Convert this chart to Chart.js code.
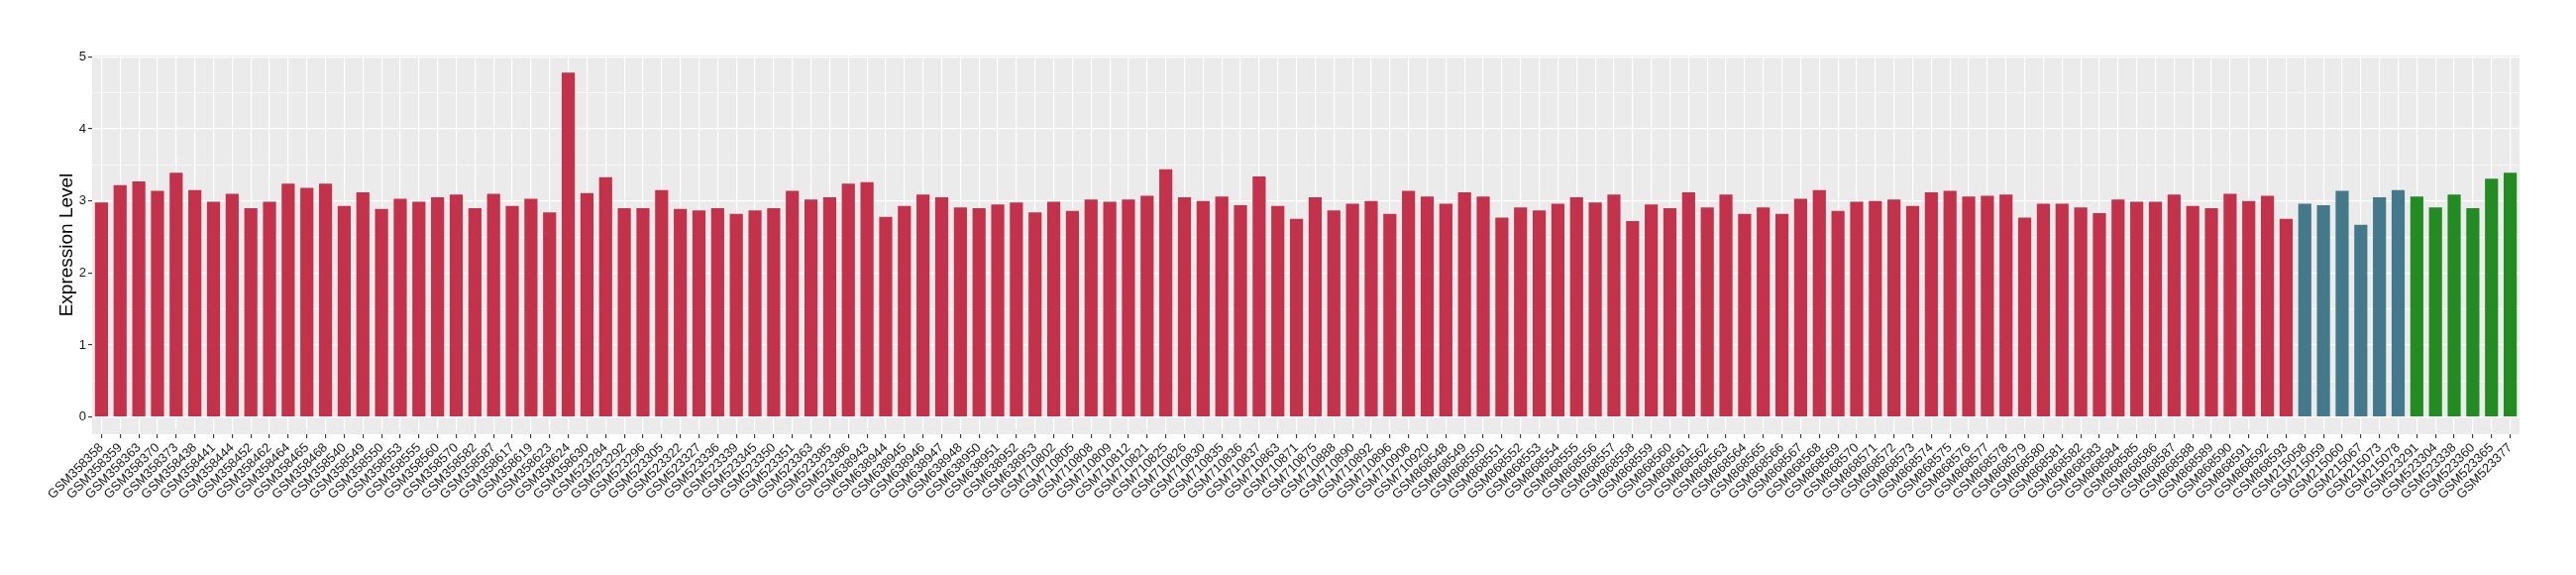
<!DOCTYPE html>
<html>
<head>
<meta charset="utf-8">
<script src="https://cdn.jsdelivr.net/npm/chart.js@4/dist/chart.umd.min.js"></script>
<style>
    body { margin: 0; background: #ffffff; }
    #wrap { width: 2600px; height: 580px; }
</style>
</head>
<body>
<div id="wrap"><canvas id="myChart" width="2600" height="580"></canvas></div>
<script>
// Samples and expression levels, one pair of arrays per group
const redSamples = [
    'GSM358358', 'GSM358359', 'GSM358363', 'GSM358370', 'GSM358373', 'GSM358438', 'GSM358441', 'GSM358444',
    'GSM358452', 'GSM358462', 'GSM358464', 'GSM358465', 'GSM358468', 'GSM358540', 'GSM358549', 'GSM358550',
    'GSM358553', 'GSM358555', 'GSM358560', 'GSM358570', 'GSM358582', 'GSM358587', 'GSM358617', 'GSM358619',
    'GSM358623', 'GSM358624', 'GSM358630', 'GSM523284', 'GSM523292', 'GSM523296', 'GSM523305', 'GSM523322',
    'GSM523327', 'GSM523336', 'GSM523339', 'GSM523345', 'GSM523350', 'GSM523351', 'GSM523363', 'GSM523385',
    'GSM523386', 'GSM638943', 'GSM638944', 'GSM638945', 'GSM638946', 'GSM638947', 'GSM638948', 'GSM638950',
    'GSM638951', 'GSM638952', 'GSM638953', 'GSM710802', 'GSM710805', 'GSM710808', 'GSM710809', 'GSM710812',
    'GSM710821', 'GSM710825', 'GSM710826', 'GSM710830', 'GSM710835', 'GSM710836', 'GSM710837', 'GSM710863',
    'GSM710871', 'GSM710875', 'GSM710888', 'GSM710890', 'GSM710892', 'GSM710896', 'GSM710908', 'GSM710920',
    'GSM868548', 'GSM868549', 'GSM868550', 'GSM868551', 'GSM868552', 'GSM868553', 'GSM868554', 'GSM868555',
    'GSM868556', 'GSM868557', 'GSM868558', 'GSM868559', 'GSM868560', 'GSM868561', 'GSM868562', 'GSM868563',
    'GSM868564', 'GSM868565', 'GSM868566', 'GSM868567', 'GSM868568', 'GSM868569', 'GSM868570', 'GSM868571',
    'GSM868572', 'GSM868573', 'GSM868574', 'GSM868575', 'GSM868576', 'GSM868577', 'GSM868578', 'GSM868579',
    'GSM868580', 'GSM868581', 'GSM868582', 'GSM868583', 'GSM868584', 'GSM868585', 'GSM868586', 'GSM868587',
    'GSM868588', 'GSM868589', 'GSM868590', 'GSM868591', 'GSM868592', 'GSM868593'
];
const redValues = [
    2.98, 3.22, 3.27, 3.14, 3.39, 3.15, 2.99, 3.10,
    2.90, 2.99, 3.24, 3.18, 3.24, 2.93, 3.12, 2.89,
    3.03, 2.99, 3.05, 3.09, 2.90, 3.10, 2.93, 3.03,
    2.84, 4.78, 3.11, 3.33, 2.90, 2.90, 3.15, 2.89,
    2.87, 2.90, 2.82, 2.87, 2.90, 3.14, 3.02, 3.05,
    3.24, 3.26, 2.78, 2.93, 3.09, 3.05, 2.91, 2.90,
    2.95, 2.98, 2.84, 2.99, 2.86, 3.02, 2.99, 3.02,
    3.07, 3.44, 3.05, 3.00, 3.06, 2.94, 3.34, 2.93,
    2.75, 3.05, 2.87, 2.96, 3.00, 2.82, 3.14, 3.06,
    2.96, 3.12, 3.06, 2.77, 2.91, 2.87, 2.96, 3.05,
    2.98, 3.09, 2.72, 2.95, 2.90, 3.12, 2.91, 3.09,
    2.82, 2.91, 2.82, 3.03, 3.15, 2.86, 2.99, 3.00,
    3.02, 2.93, 3.12, 3.14, 3.06, 3.07, 3.09, 2.77,
    2.96, 2.96, 2.91, 2.83, 3.02, 2.99, 2.99, 3.09,
    2.93, 2.90, 3.10, 3.00, 3.07, 2.75
];
const blueSamples = ['GSM215058', 'GSM215059', 'GSM215060', 'GSM215067', 'GSM215073', 'GSM215078'];
const blueValues = [2.96, 2.94, 3.14, 2.67, 3.05, 3.15];
const greenSamples = ['GSM523291', 'GSM523304', 'GSM523338', 'GSM523360', 'GSM523365', 'GSM523377'];
const greenValues = [3.06, 2.91, 3.09, 2.90, 3.31, 3.39];

const yTicks = [0, 1, 2, 3, 4, 5];

const labels = redSamples.concat(blueSamples, greenSamples);
const values = redValues.concat(blueValues, greenValues);
const colors = redSamples.map(() => '#C3314A')
    .concat(blueSamples.map(() => '#44798B'), greenSamples.map(() => '#228B22'));

// grey panel behind the bars (ggplot look)
const panelBackground = {
    id: 'panelBackground',
    beforeDraw(chart) {
        const { ctx, chartArea } = chart;
        ctx.save();
        ctx.fillStyle = '#EBEBEB';
        ctx.fillRect(chartArea.left, chartArea.top, chartArea.right - chartArea.left, chartArea.bottom - chartArea.top);
        ctx.restore();
    }
};

Chart.defaults.font.family = '"Liberation Sans", Arial, sans-serif';

const ctx = document.getElementById('myChart').getContext('2d');
new Chart(ctx, {
    type: 'bar',
    data: {
        labels: labels,
        datasets: [{
            label: 'Expression Level',
            data: values,
            backgroundColor: colors,
            borderWidth: 0,
            barPercentage: 0.7,
            categoryPercentage: 1.0
        }]
    },
    options: {
        responsive: false,
        animation: false,
        layout: {
            padding: { left: 52, right: 57, top: 56, bottom: 0 }
        },
        plugins: {
            legend: { display: false },
            tooltip: { enabled: false }
        },
        scales: {
            x: {
                offset: true,
                border: { display: false },
                grid: {
                    offset: false,
                    color: '#FFFFFF',
                    lineWidth: 1.2,
                    tickColor: '#333333',
                    tickLength: 4,
                    tickWidth: 1.1
                },
                ticks: {
                    autoSkip: false,
                    minRotation: 45,
                    maxRotation: 45,
                    padding: 2,
                    color: '#1A1A1A',
                    font: { size: 13 }
                },
                afterFit: function (scale) {
                    scale.height = 142;
                }
            },
            y: {
                min: -0.239,
                max: 5.019,
                border: { display: false },
                grid: {
                    color: '#FFFFFF',
                    lineWidth: c => Number.isInteger(c.tick.value) ? 1.2 : 0.6,
                    tickColor: c => Number.isInteger(c.tick.value) ? '#333333' : 'rgba(0,0,0,0)',
                    tickLength: 4,
                    tickWidth: 1.1
                },
                ticks: {
                    stepSize: 0.5,
                    includeBounds: false,
                    padding: 2,
                    color: '#1A1A1A',
                    font: { size: 13 },
                    callback: v => yTicks.includes(v) ? String(v) : ''
                },
                title: {
                    display: true,
                    text: 'Expression Level',
                    color: '#000000',
                    font: { size: 19 },
                    padding: { top: 4, bottom: 0 }
                },
                afterFit: function (scale) {
                    scale.width = 41;
                }
            }
        }
    },
    plugins: [panelBackground]
});
</script>
</body>
</html>
